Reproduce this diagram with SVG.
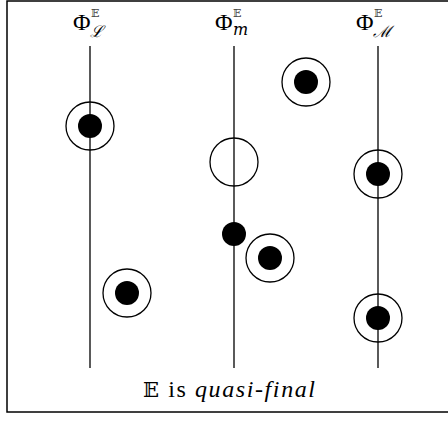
<svg xmlns="http://www.w3.org/2000/svg" width="448" height="422" viewBox="0 0 448 422">
<style>
.ring{fill:none;stroke:#000;stroke-width:1.3}
.dot{fill:#000}
.ax{stroke:#000;stroke-width:1.3}
.lbl{font-family:"Liberation Serif","DejaVu Serif",serif;font-size:24px;fill:#000}
.sup{font-family:"DejaVu Serif",serif;font-size:11px;fill:#444}
.sub{font-family:"DejaVu Serif",serif;font-size:16px;font-style:italic;fill:#000}
.cap{font-family:"Liberation Serif","DejaVu Serif",serif;font-size:24px;fill:#000}
</style>
<rect x="7" y="1" width="450" height="411" fill="none" stroke="#000" stroke-width="1.5"/>
<g id="connectors">
<line class="ax" x1="90" y1="46" x2="90" y2="368"/>
<line class="ax" x1="234" y1="46" x2="234" y2="368"/>
<line class="ax" x1="378" y1="46" x2="378" y2="368"/>
</g>
<g id="label-L"><text class="lbl" x="73" y="30">Φ</text><text class="sup" x="91" y="17">𝔼</text><text class="sub" x="90" y="37">ℒ</text></g>
<g id="label-m"><text class="lbl" x="215" y="30">Φ</text><text class="sup" x="233" y="17">𝔼</text><text class="sub" x="233" y="35">m</text></g>
<g id="label-M"><text class="lbl" x="356" y="30">Φ</text><text class="sup" x="374" y="17">𝔼</text><text class="sub" x="373" y="37">ℳ</text></g>
<g id="n1"><circle class="ring" cx="90" cy="126" r="24"/><circle class="dot" cx="90" cy="126" r="12"/></g>
<g id="n2"><circle class="ring" cx="127" cy="293" r="24"/><circle class="dot" cx="127" cy="293" r="12"/></g>
<g id="n3"><circle class="ring" cx="234" cy="162" r="24"/></g>
<g id="n4"><circle class="dot" cx="234" cy="234" r="12"/></g>
<g id="n5"><circle class="ring" cx="270" cy="258" r="24"/><circle class="dot" cx="270" cy="258" r="12"/></g>
<g id="n6"><circle class="ring" cx="306" cy="82" r="24"/><circle class="dot" cx="306" cy="82" r="12"/></g>
<g id="n7"><circle class="ring" cx="378" cy="174" r="24"/><circle class="dot" cx="378" cy="174" r="12"/></g>
<g id="n8"><circle class="ring" cx="378" cy="318" r="24"/><circle class="dot" cx="378" cy="318" r="12"/></g>
<g id="caption"><text class="cap" x="143" y="397" textLength="172" lengthAdjust="spacing"><tspan font-family="DejaVu Serif" font-size="21">𝔼</tspan> is <tspan font-style="italic">quasi-final</tspan></text></g>
</svg>
